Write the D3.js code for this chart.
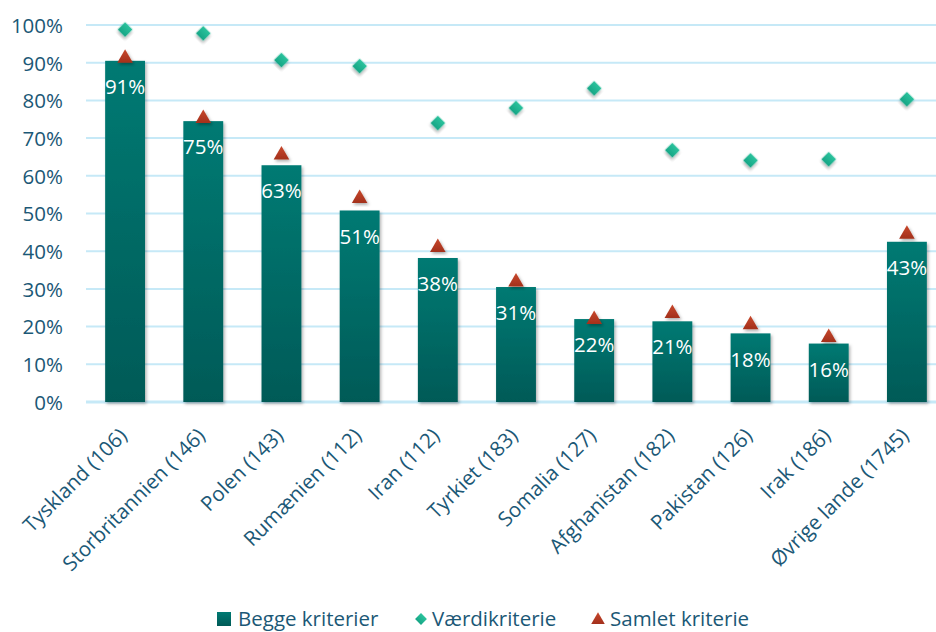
<!DOCTYPE html>
<html><head><meta charset="utf-8">
<script src="https://cdn.jsdelivr.net/npm/d3@7"></script>
<style>
body{margin:0;background:#fff;}
svg{display:block;font-family:"Open Sans", sans-serif;}
</style></head>
<body>
<svg id="chart" width="936" height="632"></svg>
<script>
const categories = ["Tyskland (106)","Storbritannien (146)","Polen (143)","Rumænien (112)","Iran (112)","Tyrkiet (183)","Somalia (127)","Afghanistan (182)","Pakistan (126)","Irak (186)","Øvrige lande (1745)"];
const beggeKriterier = [90.5, 74.5, 62.8, 50.8, 38.2, 30.5, 22.0, 21.4, 18.2, 15.5, 42.5];
const vaerdikriterie = [98.8, 97.8, 90.7, 89.1, 74.0, 78.0, 83.2, 66.8, 64.1, 64.4, 80.3];
const samletKriterie = [91.2, 75.2, 65.5, 54.0, 41.0, 31.8, 21.9, 23.5, 20.5, 17.1, 44.5];
const yTicks = [0,10,20,30,40,50,60,70,80,90,100];
const seriesNames = ["Begge kriterier","Værdikriterie","Samlet kriterie"];

const svg = d3.select("#chart");
const textColor = "#1b5876";
const fs = "20.5px";
const x = d3.scaleBand().domain(categories).range([86, 946]).paddingInner(0.49).paddingOuter(0.245);
const y = d3.scaleLinear().domain([0,100]).range([402, 25]);

const defs = svg.append("defs");
function vgrad(id, c1, c2){
  const g = defs.append("linearGradient").attr("id",id).attr("x1",0).attr("y1",0).attr("x2",0).attr("y2",1);
  g.append("stop").attr("offset","0%").attr("stop-color",c1);
  g.append("stop").attr("offset","100%").attr("stop-color",c2);
}
vgrad("barGrad","#007a73","#005a57");
vgrad("legGrad","#007a73","#005a57");
vgrad("diaGrad","#2cc39d","#16a585");
vgrad("triGrad","#c8482c","#a3301c");
const shadow = defs.append("filter").attr("id","shadow").attr("x","-20%").attr("y","-20%").attr("width","150%").attr("height","150%");
shadow.append("feDropShadow").attr("dx",1.5).attr("dy",2).attr("stdDeviation",1.8).attr("flood-color","#000").attr("flood-opacity",0.3);

// gridlines
svg.append("g").selectAll("line").data(yTicks).join("line")
  .attr("x1",86).attr("x2",936)
  .attr("y1",d=>y(d)).attr("y2",d=>y(d))
  .attr("stroke","#c6e9f7").attr("stroke-width",d=>d===0?3:2);

// y axis labels
const yAxis = d3.axisLeft(y).tickValues(yTicks).tickFormat(d=>d+"%").tickSize(0).tickPadding(0);
const ya = svg.append("g").attr("transform","translate(63,0)").call(yAxis);
ya.select(".domain").remove();
ya.selectAll("text").attr("fill",textColor).style("font-size",fs).style("font-family","'Open Sans', sans-serif").attr("dy","0.36em");

// bars
svg.append("g").selectAll("rect").data(beggeKriterier).join("rect")
  .attr("x",(d,i)=>x(categories[i]))
  .attr("width",x.bandwidth())
  .attr("y",d=>y(d))
  .attr("height",d=>y(0)-y(d))
  .attr("fill","url(#barGrad)")
  .attr("filter","url(#shadow)");

// bar labels
svg.append("g").selectAll("text").data(beggeKriterier).join("text")
  .attr("x",(d,i)=>x(categories[i])+x.bandwidth()/2)
  .attr("y",d=>y(d)+26)
  .attr("dy","0.35em")
  .attr("text-anchor","middle")
  .attr("fill","#fff")
  .style("font-size",fs)
  .text(d=>Math.round(d)+"%");

// diamonds
const dia = d3.symbol().type(d3.symbolSquare).size(110);
svg.append("g").selectAll("path").data(vaerdikriterie).join("path")
  .attr("d",dia)
  .attr("transform",(d,i)=>`translate(${x(categories[i])+x.bandwidth()/2},${y(d)}) rotate(45)`)
  .attr("fill","url(#diaGrad)")
  .attr("filter","url(#shadow)");

// triangles
const tri = d3.symbol().type(d3.symbolTriangle).size(105);
svg.append("g").selectAll("path").data(samletKriterie).join("path")
  .attr("d",tri)
  .attr("transform",(d,i)=>`translate(${x(categories[i])+x.bandwidth()/2},${y(d)})`)
  .attr("fill","url(#triGrad)")
  .attr("filter","url(#shadow)");

// x labels
svg.append("g").selectAll("text").data(categories).join("text")
  .attr("transform",d=>`translate(${x(d)+x.bandwidth()/2-2},${432}) rotate(-45)`)
  .attr("text-anchor","end")
  .attr("dy","0.35em")
  .attr("fill",textColor)
  .style("font-size",fs)
  .text(d=>d);

// legend
const leg = svg.append("g").attr("transform","translate(0,619)");
leg.append("rect").attr("x",217).attr("y",-7).attr("width",14).attr("height",14).attr("fill","url(#legGrad)");
leg.append("text").attr("x",238).attr("dy","0.35em").attr("fill",textColor).style("font-size",fs).text(seriesNames[0]);
leg.append("path").attr("d",d3.symbol().type(d3.symbolSquare).size(70)).attr("transform","translate(421,0) rotate(45)").attr("fill","url(#diaGrad)");
leg.append("text").attr("x",432).attr("dy","0.35em").attr("fill",textColor).style("font-size",fs).text(seriesNames[1]);
leg.append("path").attr("d",d3.symbol().type(d3.symbolTriangle).size(80)).attr("transform","translate(598,1)").attr("fill","url(#triGrad)");
leg.append("text").attr("x",610).attr("dy","0.35em").attr("fill",textColor).style("font-size",fs).text(seriesNames[2]);
</script>
</body></html>
